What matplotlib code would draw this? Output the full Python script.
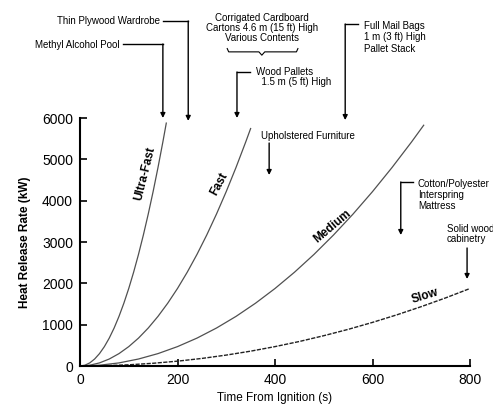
import matplotlib
matplotlib.use("Agg")
from matplotlib import pyplot as plt

plt.rcParams['font.family'] = ['Liberation Sans', 'DejaVu Sans']

# t-squared fire growth curves (time s, HRR kW)
ultra_t = [0, 10, 20, 30, 40, 50, 60, 70, 80, 90, 100, 110, 120, 130, 140, 150, 160, 170, 177]
ultra_q = [0, 19, 75, 169, 300, 469, 675, 919, 1201, 1520, 1876, 2270, 2701, 3170, 3677,
           4221, 4803, 5422, 5877]

fast_t = [0, 20, 40, 60, 80, 100, 120, 140, 160, 180, 200, 220, 240, 260, 280, 300, 320, 340, 350]
fast_q = [0, 19, 75, 169, 300, 469, 675, 919, 1201, 1520, 1876, 2270, 2701, 3170, 3677,
          4221, 4803, 5422, 5745]

medium_t = [0, 40, 80, 120, 160, 200, 240, 280, 320, 360, 400, 440, 480, 520, 560, 600, 640, 680, 705]
medium_q = [0, 19, 75, 169, 300, 469, 675, 919, 1200, 1519, 1875, 2269, 2700, 3169, 3675,
            4219, 4801, 5419, 5825]

slow_t = [0, 50, 100, 150, 200, 250, 300, 350, 400, 450, 500, 550, 600, 650, 700, 750, 800]
slow_q = [0, 7, 29, 66, 117, 183, 264, 359, 469, 593, 733, 886, 1055, 1238, 1436, 1648, 1875]

x_ticks = [0, 200, 400, 600, 800]
y_ticks = [0, 1000, 2000, 3000, 4000, 5000, 6000]

fig = plt.figure(figsize=(4.93, 4.07), dpi=100)
ax = fig.add_axes([80 / 493, 1 - 366 / 407, 390 / 493, 248 / 407])

ax.plot(ultra_t, ultra_q, color='#505050', lw=0.9)
ax.plot(fast_t, fast_q, color='#505050', lw=0.9)
ax.plot(medium_t, medium_q, color='#505050', lw=0.9)
ax.plot(slow_t, slow_q, color='#222222', lw=1, ls=(0, (3, 1)))

# curve names
lab = dict(fontsize=8.5, fontweight='bold', ha='center', va='center')
ax.text(134, 4650, 'Ultra-Fast', rotation=76, **lab)
ax.text(286, 4400, 'Fast', rotation=62, **lab)
ax.text(518, 3380, 'Medium', rotation=40, **lab)
ax.text(707, 1700, 'Slow', rotation=17, **lab)

ax.set_xlim(0, 800)
ax.set_ylim(0, 6000)
ax.set_xticks(x_ticks)
ax.set_yticks(y_ticks)
ax.tick_params(direction='in', length=5, width=1.2, labelsize=10, pad=5)
for s in ('top', 'right'):
    ax.spines[s].set_visible(False)
for s in ('left', 'bottom'):
    ax.spines[s].set_linewidth(1.5)

ax.set_ylabel('Heat Release Rate (kW)', fontsize=8.5, fontweight='bold', labelpad=8)
ax.set_xlabel('Time From Ignition (s)', fontsize=8.5, labelpad=4)

# item annotations
fs = 7
arrow = dict(arrowstyle='-|>', color='black', lw=1, mutation_scale=7, shrinkA=0, shrinkB=0)


def elbow(x0, x1, y0, y1):
    ax.plot([x0, x1], [y0, y0], color='black', lw=1, clip_on=False)
    ax.annotate('', xy=(x1, y1), xytext=(x1, y0), arrowprops=arrow, annotation_clip=False)


ax.text(82, 7766, 'Methyl Alcohol Pool', fontsize=fs, ha='right', va='center')
elbow(88, 170, 7790, 6000)

ax.text(164, 8347, 'Thin Plywood Wardrobe', fontsize=fs, ha='right', va='center')
elbow(170, 222, 8347, 5930)

ax.text(373, 8177, 'Corrigated Cardboard\nCartons 4.6 m (15 ft) High\nVarious Contents',
        fontsize=fs, ha='center', va='center', linespacing=1.05)
ax.plot([302, 305, 367, 373, 379, 444, 447], [7680, 7600, 7600, 7520, 7600, 7600, 7680],
        color='black', lw=0.8, clip_on=False)

ax.text(361, 6990, 'Wood Pallets\n  1.5 m (5 ft) High', fontsize=fs, ha='left', va='center',
        linespacing=1.0)
elbow(349, 322, 7113, 6000)

ax.text(583, 7950, 'Full Mail Bags\n1 m (3 ft) High\nPallet Stack', fontsize=fs, ha='left',
        va='center', linespacing=1.2)
elbow(570, 544, 8274, 5950)

ax.text(371, 5565, 'Upholstered Furniture', fontsize=fs, ha='left', va='center')
ax.annotate('', xy=(388, 4621), xytext=(388, 5395), arrowprops=arrow, annotation_clip=False)

ax.text(693, 4137, 'Cotton/Polyester\nInterspring\nMattress', fontsize=fs, ha='left',
        va='center', linespacing=1.1)
elbow(683, 658, 4452, 3169)

ax.text(753, 3190, 'Solid wood\ncabinetry', fontsize=fs, ha='left', va='center',
        linespacing=0.95)
ax.annotate('', xy=(794, 2105), xytext=(794, 2855), arrowprops=arrow, annotation_clip=False)

fig.savefig('out.png', dpi=100)
